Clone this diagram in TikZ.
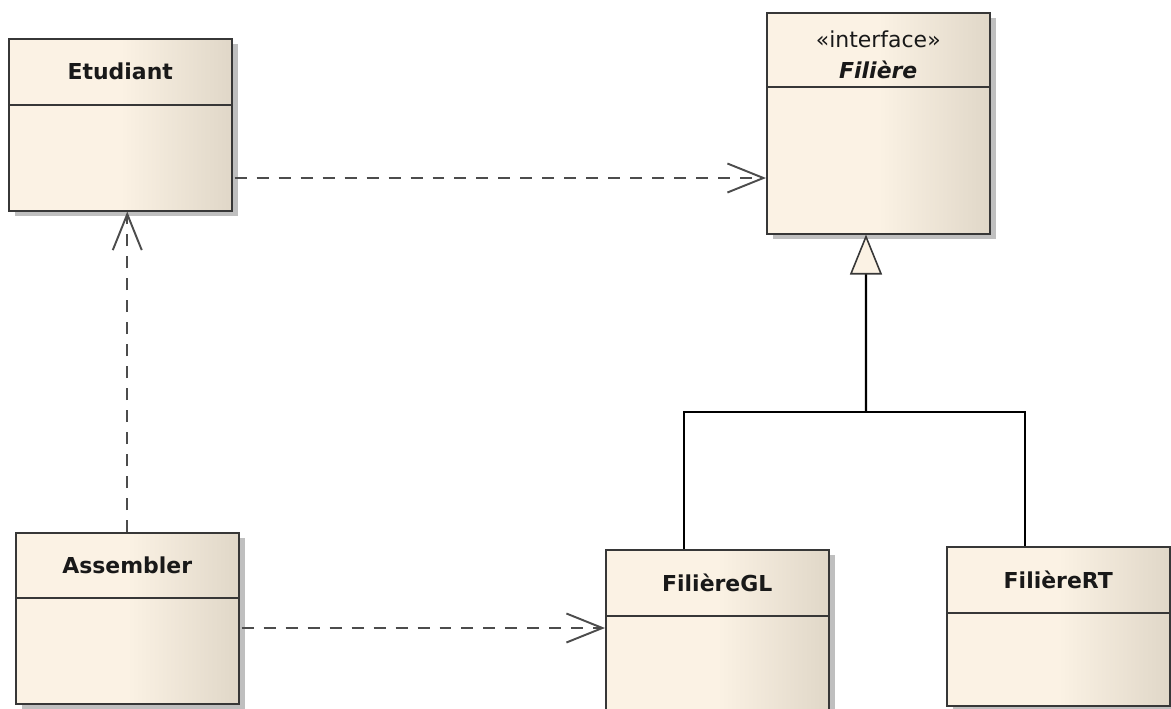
\documentclass[tikz,border=0pt]{standalone}
\usepackage{fontspec}
\setmainfont{DejaVu Sans}[ItalicFont={DejaVu Sans Oblique}, BoldItalicFont={DejaVu Sans Bold Oblique}]
\usetikzlibrary{positioning, arrows.meta, shadows}

\definecolor{classlight}{RGB}{251,242,228}
\definecolor{classdark}{RGB}{224,215,200}
\definecolor{classline}{RGB}{55,55,55}

\begin{document}
\begin{tikzpicture}[x=0.02cm, y=-0.02cm]
    \tikzset{
      classbox/.style={draw=classline, line width=0.9pt, left color=classlight, right color=classdark, middle color=classlight,
        minimum width=4.46cm, anchor=north west, inner sep=0pt,
        drop shadow={shadow xshift=0.13cm, shadow yshift=-0.1cm, fill=black!25, opacity=1}}, % a class with its shadow
      classname/.style={font=\fontsize{12.5}{18}\selectfont\bfseries, text=black!90}, % name in the top part
      divider/.style={draw=classline, line width=0.9pt}, % line under the name
      dep/.style={draw=black!70, line width=1.1pt, dash pattern=on 0.24cm off 0.2cm,
        -{Straight Barb[length=0.72cm, width=0.58cm, line width=1.1pt]}}, % dependency
      gen/.style={draw=black, line width=1.4pt}, % generalization
    }
    \useasboundingbox (0,0) rectangle (1171,708);

    % classes
    \node[classbox, minimum height=3.44cm] (etu) at (8,38) {};
    \node[classbox, minimum height=4.42cm] (fil) at (766,12) {};
    \node[classbox, minimum height=3.42cm] (asm) at (15,532) {};
    \node[classbox, minimum height=3.4cm] (gl) at (605,549) {};
    \node[classbox, minimum height=3.18cm] (rt) at (946,546) {};

    \node[classname] (etuname) at ([yshift=-0.67cm]etu.north) {Etudiant};
    \node[classname, align=center] (filname) at ([yshift=-0.86cm]fil.north)
      {{\mdseries «interface»}\\ \textit{Filière}};
    \node[classname] (asmname) at ([yshift=-0.66cm]asm.north) {Assembler};
    \node[classname] (glname) at ([yshift=-0.67cm]gl.north) {FilièreGL};
    \node[classname] (rtname) at ([yshift=-0.67cm]rt.north) {FilièreRT};

    \draw[divider] ([yshift=-1.34cm]etu.north west) -- ([yshift=-1.34cm]etu.north east);
    \draw[divider] ([yshift=-1.5cm]fil.north west) -- ([yshift=-1.5cm]fil.north east);
    \draw[divider] ([yshift=-1.32cm]asm.north west) -- ([yshift=-1.32cm]asm.north east);
    \draw[divider] ([yshift=-1.34cm]gl.north west) -- ([yshift=-1.34cm]gl.north east);
    \draw[divider] ([yshift=-1.34cm]rt.north west) -- ([yshift=-1.34cm]rt.north east);

    % dependencies
    \coordinate (row1) at (0,178);
    \coordinate (row2) at (0,628);
    \draw[dep] ([xshift=0.04cm]etu.east |- row1) -- (fil.west |- row1);
    \draw[dep] (asm.north) -- (asm.north |- etu.south);
    \draw[dep] ([xshift=0.04cm]asm.east |- row2) -- (gl.west |- row2);

    % realisations of the interface
    \coordinate (split) at (866,412);
    \draw[gen] ([xshift=1.58cm]gl.north west) |- (split) -| ([xshift=1.58cm]rt.north west);
    \draw[gen, -{Triangle[open, fill=classlight, color=classline, length=0.8cm, width=0.64cm, line width=0.9pt]}]
      (split) -- ([xshift=2cm]fil.south west);
\end{tikzpicture}
\end{document}
